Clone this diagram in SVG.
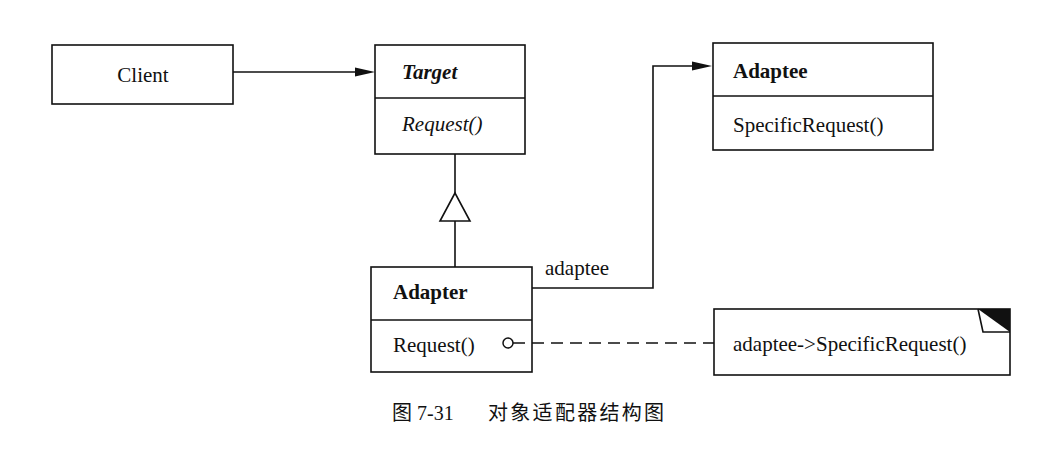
<svg xmlns="http://www.w3.org/2000/svg" width="1060" height="463" viewBox="0 0 1060 463">
<style>
.box{fill:#fff;stroke:#111;stroke-width:1.6}
.ln{fill:none;stroke:#111;stroke-width:1.6}
.t{font-family:"Liberation Serif","Times New Roman",serif;font-size:21px;fill:#111}
.b{font-weight:bold}
.i{font-style:italic}
.cap{font-family:"Liberation Serif","Noto Sans CJK SC",serif;font-size:20px;fill:#111}
</style>
<rect width="1060" height="463" fill="#fff"/>
<g id="client">
  <rect class="box" x="52" y="45" width="181" height="59"/>
  <text class="t" x="143" y="82" text-anchor="middle">Client</text>
</g>
<g id="target">
  <rect class="box" x="375" y="45" width="150" height="109"/>
  <line class="ln" x1="375" y1="98" x2="525" y2="98"/>
  <text class="t b i" x="402" y="79">Target</text>
  <text class="t i" x="402" y="131">Request()</text>
</g>
<g id="adaptee">
  <rect class="box" x="713" y="43" width="220" height="107"/>
  <line class="ln" x1="713" y1="96" x2="933" y2="96"/>
  <text class="t b" x="733" y="78">Adaptee</text>
  <text class="t" x="733" y="132">SpecificRequest()</text>
</g>
<g id="adapter">
  <rect class="box" x="371" y="267" width="161" height="105"/>
  <line class="ln" x1="371" y1="320" x2="532" y2="320"/>
  <text class="t b" x="393" y="299">Adapter</text>
  <text class="t" x="393" y="352">Request()</text>
</g>
<g id="note">
  <rect class="box" x="714" y="309" width="296" height="66"/>
  <polygon points="978,309 1010,309 1010,332" fill="#111"/>
  <polyline class="ln" points="978,309 983,332 1010,332"/>
  <text class="t" x="733" y="351">adaptee-&gt;SpecificRequest()</text>
</g>
<g id="connectors">
  <line class="ln" x1="233" y1="72" x2="360" y2="72"/>
  <polygon points="375,72 355,67.5 355,76.5" fill="#111"/>
  <line class="ln" x1="455" y1="154" x2="455" y2="193"/>
  <polygon points="455,193 440,221 470,221" fill="#fff" stroke="#111" stroke-width="1.6"/>
  <line class="ln" x1="455" y1="221" x2="455" y2="267"/>
  <polyline class="ln" points="532,288 653,288 653,66 698,66"/>
  <polygon points="712,66 692,61.5 692,70.5" fill="#111"/>
  <text class="t" x="545" y="275">adaptee</text>
  <circle cx="508" cy="343" r="5" fill="#fff" stroke="#111" stroke-width="1.5"/>
  <line class="ln" x1="513" y1="343" x2="714" y2="343" stroke-dasharray="12,7"/>
</g>
<g id="caption">
  <text class="cap" x="392" y="420">图 7-31</text>
  <text class="cap" x="488" y="420" font-size="21" letter-spacing="2.3">对象适配器结构图</text>
</g>
</svg>
